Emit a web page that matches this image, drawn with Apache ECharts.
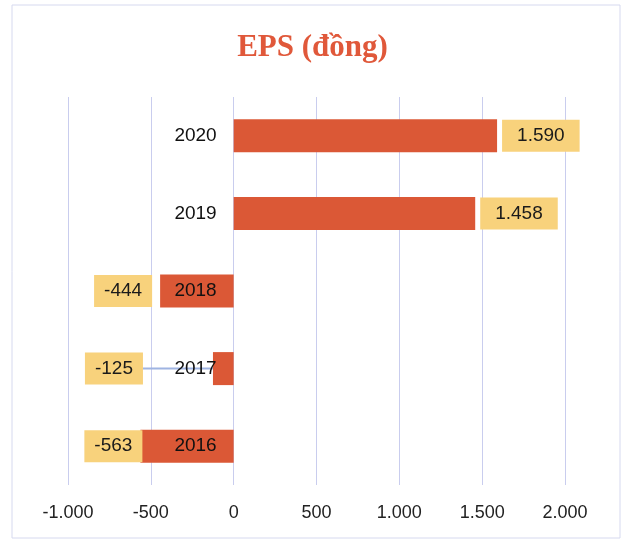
<!DOCTYPE html>
<html>
<head>
<meta charset="utf-8">
<script src="https://cdn.jsdelivr.net/npm/echarts@6/dist/echarts.min.js"></script>
<style>html,body{margin:0;padding:0;background:#fff}#c{width:625px;height:541px}</style>
</head>
<body>
<div id="c"></div>
<script>
const categories = ['2016', '2017', '2018', '2019', '2020'];
const epsValues = [-563, -125, -444, 1458, 1590];
const titleText = 'EPS (đồng)';
const axisMin = -1000, axisMax = 2000, axisStep = 500;

function fmt(v) {
  const s = Math.abs(v).toString().replace(/\B(?=(\d{3})+(?!\d))/g, '.');
  return (v < 0 ? '-' : '') + s;
}

const chart = echarts.init(document.getElementById('c'), null, {renderer: 'canvas'});
chart.setOption({
  animation: false,
  backgroundColor: '#ffffff',
  title: {
    text: titleText, left: 'center', top: 27,
    textStyle: {fontFamily: 'Liberation Serif', fontWeight: 'bold', fontSize: 31, color: '#e0583a'}
  },
  graphic: [{
    type: 'rect', shape: {x: 12, y: 5, width: 608, height: 533},
    style: {fill: 'none', stroke: '#d6d9ef', lineWidth: 1}, silent: true, z: -1
  }],
  grid: {left: 68, right: 60, top: 97, bottom: 56, containLabel: false},
  xAxis: {
    type: 'value', min: axisMin, max: axisMax, interval: axisStep,
    axisLine: {show: false}, axisTick: {show: false},
    splitLine: {show: true, lineStyle: {color: '#c9cdee', width: 1}},
    axisLabel: {formatter: fmt, margin: 19, fontFamily: 'Liberation Sans', fontSize: 18, color: '#222'}
  },
  yAxis: {
    type: 'category', data: categories,
    axisLine: {show: false}, axisTick: {show: false},
    axisLabel: {show: false}
  },
  series: [{
    type: 'bar', data: epsValues.map((v, i) => {
      const d = {value: v};
      if (v < 0) {
        d.label = {position: 'left', distance: i === 0 ? -2 : 8, padding: [7, 10, 6, 10]};
      }
      if (i === 1) {
        d.labelLine = {show: true, lineStyle: {color: '#9fb4e2', width: 2}};
      }
      return d;
    }),
    barWidth: 33,
    itemStyle: {color: '#db5836'},
    label: {
      show: true, position: 'right', distance: 5,
      formatter: p => fmt(p.value),
      backgroundColor: '#f8d27c', padding: [7, 15, 6, 15],
      fontFamily: 'Liberation Sans', fontSize: 19, color: '#1a1a1a'
    },
    labelLayout: p => p.dataIndex === 1 ? {dx: -62} : {},
    labelLine: {show: false}
  }, {
    type: 'scatter', z: 5, silent: true,
    data: categories.map(c => [0, c]),
    symbolSize: 0,
    itemStyle: {opacity: 1},
    label: {
      show: true, position: 'left', distance: 17,
      formatter: p => p.value[1],
      fontFamily: 'Liberation Sans', fontSize: 19, color: '#111'
    }
  }]
});
</script>
</body>
</html>
